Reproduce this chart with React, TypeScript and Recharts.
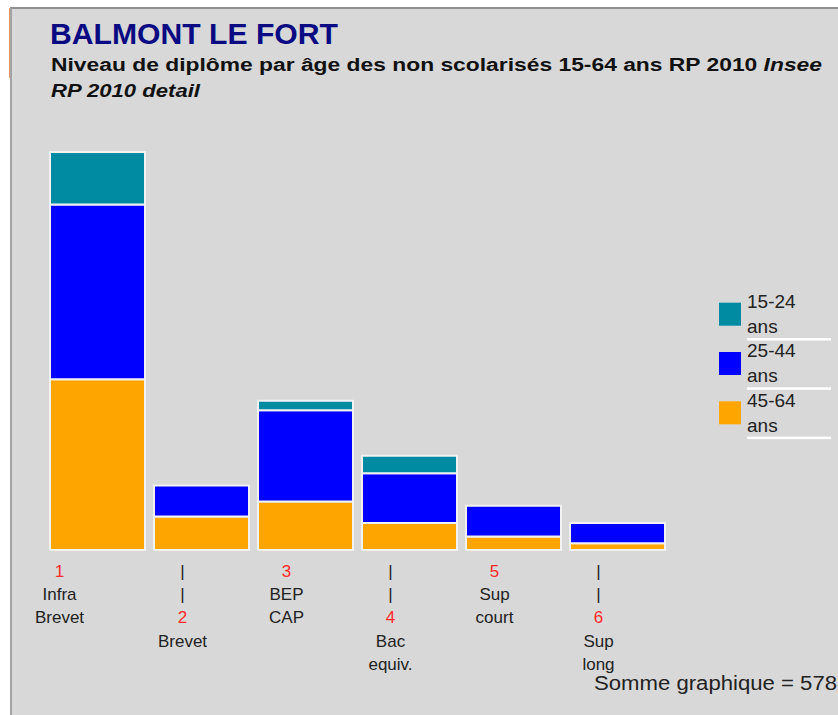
import React from 'react';
import { BarChart, Bar, XAxis, YAxis, Legend } from 'recharts';

const codes = ['1', '2', '3', '4', '5', '6'];
const labelLines = [['Infra', 'Brevet'], ['Brevet'], ['BEP', 'CAP'], ['Bac', 'equiv.'], ['Sup', 'court'], ['Sup', 'long']];
const age4564 = [127, 25, 36, 20, 10, 5];
const age2544 = [130, 23, 68, 37, 23, 15];
const age1524 = [39, 0, 7, 13, 0, 0];

const series = [
  { key: 'a1524', name: '15-24', sub: 'ans', color: '#008ba3' },
  { key: 'a2544', name: '25-44', sub: 'ans', color: '#0000ff' },
  { key: 'a4564', name: '45-64', sub: 'ans', color: '#ffa500' },
];

const data = codes.map((c, i) => ({ code: c, a4564: age4564[i], a2544: age2544[i], a1524: age1524[i] }));
const total = [...age4564, ...age2544, ...age1524].reduce((s, v) => s + v, 0);

const FONT = "'Liberation Sans', Arial, sans-serif";

const CustomTick = (props: any) => {
  const { x, y, payload, index } = props;
  const i = index ?? payload.index ?? 0;
  const cx = x + (i === 0 ? -38 : -19);
  const rows: { t: string; red?: boolean }[] = [];
  if (i % 2 === 1) {
    rows.push({ t: '|' }, { t: '|' });
  }
  rows.push({ t: codes[i], red: true });
  labelLines[i].forEach((l) => rows.push({ t: l }));
  return (
    <g>
      {rows.map((r, k) => (
        <text key={k} x={cx} y={y + 27 + k * 23.2} textAnchor="middle" fontSize={17} fontFamily={FONT} fill={r.red ? '#ff2a2a' : '#222'}>
          {r.t}
        </text>
      ))}
    </g>
  );
};

const renderLegend = () => (
  <svg width={125} height={150} style={{ display: 'block' }}>
    {series.map((s, i) => (
      <g key={s.key} transform={`translate(0, ${i * 49.3})`}>
        <rect x={4} y={12.7} width={22} height={23} fill={s.color} />
        <text x={32} y={18} fontSize={19} fontFamily={FONT} fill="#222">{s.name}</text>
        <text x={32} y={43} fontSize={19} fontFamily={FONT} fill="#222">{s.sub}</text>
        <rect x={32} y={48} width={84} height={2.5} fill="#ffffff" />
      </g>
    ))}
  </svg>
);

export default function App() {
  return (
    <div style={{ position: 'absolute', left: 0, top: 0, width: 838, height: 715, background: '#ffffff', overflow: 'hidden' }}>
      <div style={{ position: 'absolute', left: 9, top: 8, width: 1, height: 70, background: '#e89a6a' }} />
      <div
        style={{
          position: 'absolute', left: 10, top: 7, width: 828, height: 708, background: '#d8d8d8',
          borderLeft: '2px solid #a3a3a3', borderTop: '2px solid #8f8f8f', boxSizing: 'border-box',
        }}
      />
      <div style={{ position: 'absolute', left: 0, top: 0 }}>
        <BarChart width={838} height={715} data={data} margin={{ top: 146.6, right: 168.5, bottom: 135, left: 45.5 }} barCategoryGap={4.5}>
          <XAxis dataKey="code" height={30} tickSize={0} tickMargin={0} axisLine={false} tickLine={false} interval={0} tick={<CustomTick />} />
          <YAxis hide domain={[0, 300]} />
          <Legend
            layout="vertical"
            align="center"
            verticalAlign="middle"
            content={renderLegend}
            wrapperStyle={{ left: 715, top: 290, width: 125, height: 150 }}
          />
          <Bar dataKey="a4564" stackId="s" fill="#ffa500" stroke="#f2f2f2" strokeWidth={2} isAnimationActive={false} />
          <Bar dataKey="a2544" stackId="s" fill="#0000ff" stroke="#f2f2f2" strokeWidth={2} isAnimationActive={false} />
          <Bar dataKey="a1524" stackId="s" fill="#008ba3" stroke="#f2f2f2" strokeWidth={2} isAnimationActive={false} />
        </BarChart>
      </div>
      <svg width={838} height={715} style={{ position: 'absolute', left: 0, top: 0, pointerEvents: 'none' }}>
        <text x={50} y={44} fontSize={29} fontWeight="bold" fontFamily={FONT} fill="#0a0a82" textLength={288} lengthAdjust="spacingAndGlyphs">
          BALMONT LE FORT
        </text>
        <text x={51} y={71} fontSize={18} fontWeight="bold" fontFamily={FONT} fill="#111" textLength={771} lengthAdjust="spacingAndGlyphs">
          Niveau de diplôme par âge des non scolarisés 15-64 ans RP 2010 <tspan fontStyle="italic">Insee</tspan>
        </text>
        <text x={51} y={97} fontSize={18} fontWeight="bold" fontStyle="italic" fontFamily={FONT} fill="#111" textLength={149} lengthAdjust="spacingAndGlyphs">
          RP 2010 detail
        </text>
        <text x={594} y={690} fontSize={20} fontFamily={FONT} fill="#222" textLength={243} lengthAdjust="spacingAndGlyphs">
          {`Somme graphique = ${total}`}
        </text>
      </svg>
    </div>
  );
}
